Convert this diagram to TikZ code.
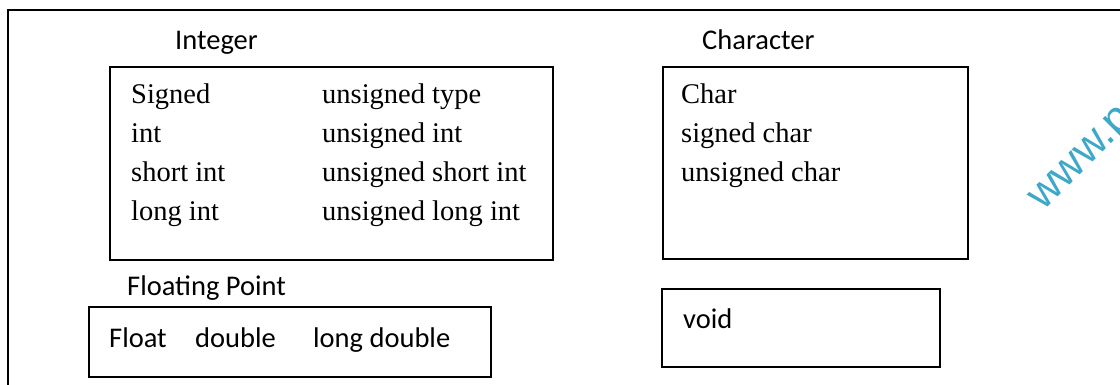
\documentclass[tikz,border=0pt]{standalone}
\usepackage{fontspec}
\setmainfont{Liberation Serif}
\newfontfamily\calfont{Carlito}
\newfontfamily\wmfont{Liberation Sans}
\definecolor{wmcol}{RGB}{62,168,200}
\begin{document}
\begin{tikzpicture}[x=1pt,y=-1pt,
  box/.style={draw=black,line width=1.8pt,anchor=north west,inner sep=0pt,outer sep=0pt},
  serif/.style={anchor=base west,inner sep=0pt,font=\fontsize{28.5}{30}\selectfont},
  sans/.style={anchor=base west,inner sep=0pt,font=\calfont\fontsize{28.5}{30}\selectfont},
  frame/.style={line width=1.8pt}]
\useasboundingbox (0,0) rectangle (1120,385);
% outer frame (top and left only)
\coordinate (fbl) at (8,390);
\coordinate (ftl) at (8,10);
\coordinate (ftr) at (1125,10);
\draw[frame] (fbl) -- (ftl) -- (ftr);
% boxes
\node[box,minimum width=443pt,minimum height=193pt] (intbox) at (110,67) {};
\node[box,minimum width=305pt,minimum height=192pt] (charbox) at (663,67) {};
\node[box,minimum width=402pt,minimum height=70pt] (floatbox) at (89,307) {};
\node[box,minimum width=278pt,minimum height=78pt] (voidbox) at (662,289) {};
% headings
\node[sans] (hint) at (175,50) {Integer};
\node[sans] (hchar) at (702,50) {Character};
\node[sans] (hfloat) at (127,295) {Floating Point};
% integer contents
\node[serif] (i1a) at (131,104) {Signed};
\node[serif] (i1b) at (322,104) {unsigned type};
\node[serif] (i2a) at (131,143) {int};
\node[serif] (i2b) at (322,143) {unsigned int};
\node[serif] (i3a) at (131,182) {short int};
\node[serif] (i3b) at (322,182) {unsigned short int};
\node[serif] (i4a) at (131,221) {long int};
\node[serif] (i4b) at (322,221) {unsigned long int};
% character contents
\node[serif] (c1) at (681,104) {Char};
\node[serif] (c2) at (681,143) {signed char};
\node[serif] (c3) at (681,182) {unsigned char};
% float contents
\node[sans] (f1) at (109,347) {Float};
\node[sans] (f2) at (195,347) {double};
\node[sans] (f3) at (313,347) {long double};
% void
\node[sans] (v1) at (683,328) {void};
% watermark
\node[anchor=base west,inner sep=0pt,rotate=45,text=wmcol,font=\wmfont\fontsize{44}{46}\selectfont] (wm) at (1043,212) {www.p};
\end{tikzpicture}
\end{document}
